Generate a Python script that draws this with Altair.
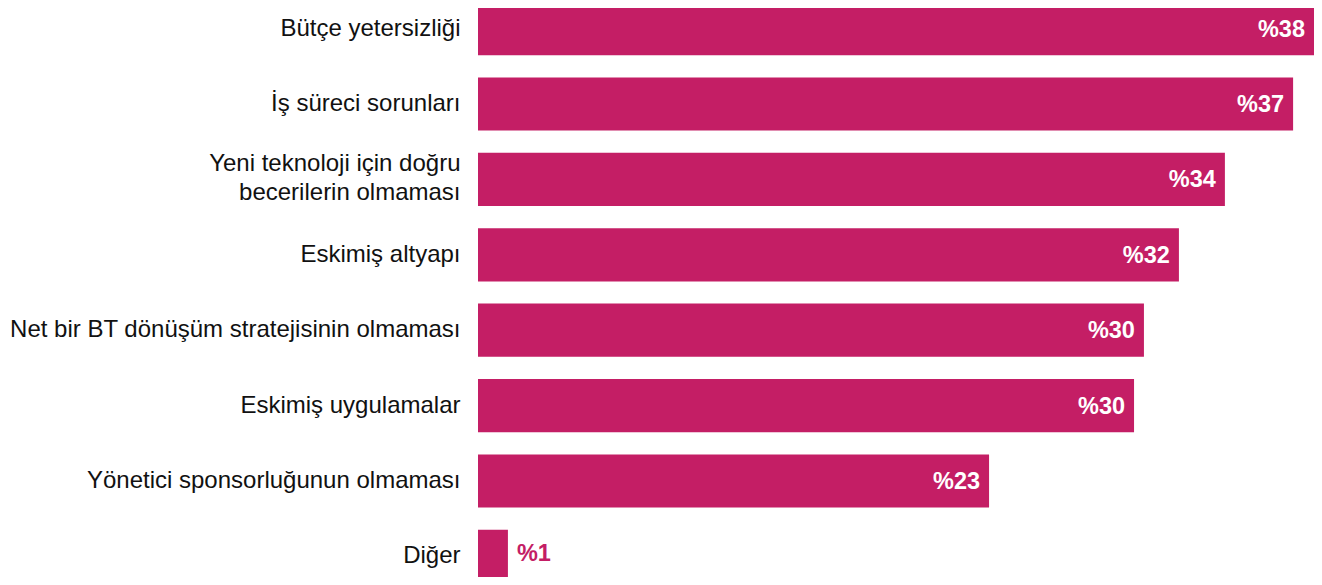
import altair as alt
import pandas as pd

categories = [
    "Bütçe yetersizliği",
    "İş süreci sorunları",
    "Yeni teknoloji için doğru becerilerin olmaması",
    "Eskimiş altyapı",
    "Net bir BT dönüşüm stratejisinin olmaması",
    "Eskimiş uygulamalar",
    "Yönetici sponsorluğunun olmaması",
    "Diğer",
]
values = [38.0, 37.05, 33.95, 31.86, 30.27, 29.82, 23.23, 1.36]
value_labels = ["%38", "%37", "%34", "%32", "%30", "%30", "%23", "%1"]

PINK = "#C41E65"

df = pd.DataFrame({
    "cat": categories,
    "val": values,
    "lab": value_labels,
    "inside": [v > 5 for v in values],
})

two_line = "Yeni teknoloji için doğru becerilerin olmaması"
label_expr = (
    f"datum.value == '{two_line}' ? "
    "['Yeni teknoloji için doğru', 'becerilerin olmaması'] : datum.value"
)

y = alt.Y(
    "cat:N",
    sort=categories,
    scale=alt.Scale(range=[-6, 575], paddingInner=0.295, paddingOuter=0),
    axis=alt.Axis(
        title=None, ticks=False, domain=False, labelPadding=18,
        labelFontSize=24, labelFont="Liberation Sans", labelColor="#111111",
        labelExpr=label_expr, labelLimit=600, labelLineHeight=29,
        labelOffset=alt.expr(f"datum.value == '{two_line}' ? -15 : 0"),
    ),
)
x = alt.X("val:Q", scale=alt.Scale(domain=[0, 38], nice=False, zero=True), axis=None)

bars = alt.Chart(df).mark_bar(color=PINK).encode(x=x, y=y)

inside = alt.Chart(df).transform_filter("datum.inside").mark_text(
    align="right", baseline="middle", dx=-9, dy=1, color="white",
    font="Liberation Sans", fontSize=23.5, fontWeight="bold",
).encode(x=x, y=y, text="lab:N")

outside = alt.Chart(df).transform_filter("!datum.inside").mark_text(
    align="left", baseline="middle", dx=9, dy=-2, color=PINK,
    font="Liberation Sans", fontSize=23.5, fontWeight="bold",
).encode(x=x, y=y, text="lab:N")

chart = alt.layer(bars, inside, outside).properties(
    width=836, height=569,
    background="white",
    autosize=alt.AutoSizeParams(type="none"),
    padding={"left": 470, "top": 0, "right": 0, "bottom": 0},
).configure_view(stroke=None, strokeWidth=0)

chart.save("out.html", embed_options={"renderer": "svg", "actions": False})
